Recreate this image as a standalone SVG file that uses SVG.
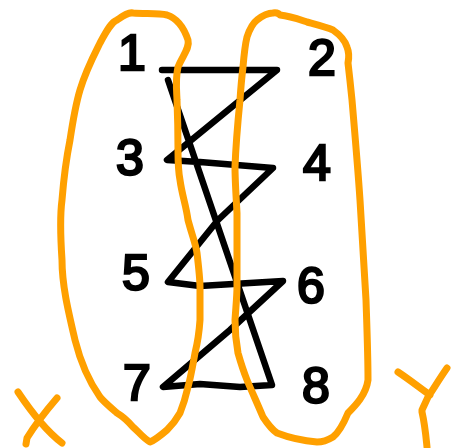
<svg xmlns="http://www.w3.org/2000/svg" width="463" height="448" viewBox="0 0 463 448">
<style>
.ink{fill:none;stroke:#000;stroke-width:6.5;stroke-linecap:round;stroke-linejoin:round}
.hl{fill:none;stroke:#FFA000;stroke-width:7;stroke-linecap:round;stroke-linejoin:round}
.num{font-family:"Liberation Sans",Arial,sans-serif;font-size:50px;fill:#000;stroke:#000;stroke-width:2.5;text-anchor:middle}
</style>
<rect width="463" height="448" fill="#fff"/>
<g id="connectors">
<path class="ink" d="M162 70 L277 70 L167 160 L200 162 L273 168 L218 220 L168 282 L200 286 L283 281 L230 330 L163 387 L200 384 L240 387 L272 385 L168 80"/>
</g>
<g id="n1"><text class="num" x="132" y="70">1</text></g>
<g id="n2"><text class="num" x="322" y="75">2</text></g>
<g id="n3"><text class="num" x="130" y="175">3</text></g>
<g id="n4"><text class="num" x="317" y="180">4</text></g>
<g id="n5"><text class="num" x="136" y="290">5</text></g>
<g id="n6"><text class="num" x="311" y="303">6</text></g>
<g id="n7"><text class="num" x="137" y="400">7</text></g>
<g id="n8"><text class="num" x="316" y="403">8</text></g>
<g id="setX">
<path class="hl" d="M100 43 C108 28 112 22 117 20 C123 16 128 12 133 13 C145 14 158 13 167 15 C176 18 183 25 188 40 C190 48 183 55 178 67 C175 80 177 95 177 100 C178 125 178 140 178 150 C178 165 179 175 180 180 C182 195 186 205 188 220 C192 235 196 245 197 253 C199 270 200 280 200 287 C200 300 200 310 200 320 C199 335 197 345 195 353 C192 370 190 380 188 387 C185 400 182 408 180 413 C175 422 170 427 167 430 C160 436 155 440 150 442 C143 438 138 431 133 427 C127 420 122 416 117 413 C110 407 104 402 100 397 C88 380 80 360 75 340 C68 310 62 285 62 260 C60 230 60 215 62 200 C64 175 67 155 70 140 C73 120 77 100 80 90 C86 70 94 55 100 43 Z"/>
<path class="hl" d="M18 392 C30 410 45 430 62 443 M57 398 C45 412 35 425 27 438 L26 444"/>
</g>
<g id="setY">
<path class="hl" d="M247 37 C250 28 253 23 257 20 C262 16 268 13 273 13 C278 12 280 15 280 15 C290 16 298 19 307 22 C318 25 326 27 333 30 C340 35 345 40 347 47 C349 52 349 58 348 63 C350 80 351 90 352 100 C355 135 358 170 360 200 C362 235 364 270 366 300 C367 330 368 355 368 380 C366 395 355 406 348 413 C343 425 338 433 333 437 C328 440 322 442 317 442 C305 441 290 438 277 433 C271 429 267 423 263 417 C258 405 252 392 247 380 C243 370 240 360 238 353 C236 342 235 330 235 320 C236 305 237 295 237 287 C237 275 237 263 237 253 C237 240 237 230 237 220 C237 215 237 214 237 213 C236 195 235 180 235 167 C236 140 238 120 240 100 C241 85 242 75 243 67 C244 55 245 45 247 37 Z"/>
<path class="hl" d="M398 372 C410 380 420 388 430 395 M447 368 C440 378 434 388 428 397 L422 410 L422 412 C425 425 426 437 427 447"/>
</g>
</svg>
